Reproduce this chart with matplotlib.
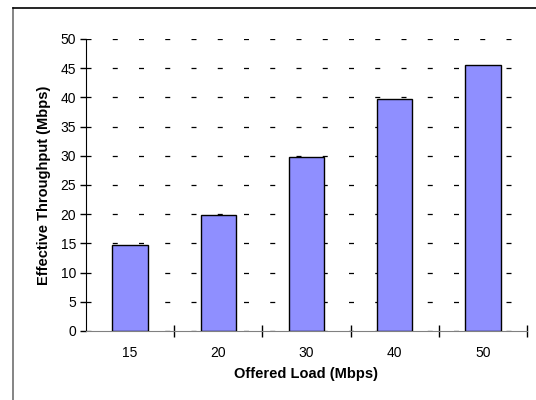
import matplotlib
matplotlib.use('Agg')
import matplotlib.pyplot as plt
from matplotlib.lines import Line2D

plt.rcParams['font.family'] = ['Liberation Sans', 'DejaVu Sans']

loads = ['15', '20', '30', '40', '50']
throughput = [14.8, 19.9, 29.8, 39.8, 45.6]
y_ticks = [0, 5, 10, 15, 20, 25, 30, 35, 40, 45, 50]

fig = plt.figure(figsize=(5.36, 4.0), dpi=100)
ax = fig.add_axes([86 / 536, 1 - 331 / 400, (527 - 86) / 536, (331 - 39) / 400])

x = list(range(len(loads)))
ax.bar(x, throughput, width=0.4, color='#8f8fff', edgecolor='black', linewidth=1.0, zorder=3)

ax.set_xlim(-0.5, len(loads) - 0.5)
ax.set_ylim(0, 50)
ax.set_yticks(y_ticks)
ax.set_xticks(x)
ax.set_xticklabels(loads)
ax.set_xticks([i + 0.5 for i in range(len(loads))], minor=True)
ax.tick_params(axis='x', which='major', length=0, pad=11, labelsize=10)
ax.tick_params(axis='x', which='minor', direction='inout', length=8, width=1, color='black')
ax.tick_params(axis='y', direction='out', length=4, width=1, labelsize=10, pad=3)

ax.yaxis.grid(True, color='black', linestyle=(0, (4, 17)), linewidth=0.9, zorder=0)
ax.set_axisbelow(True)

for s in ['top', 'right']:
    ax.spines[s].set_visible(False)
ax.spines['left'].set_color('black')
ax.spines['bottom'].set_color('#808080')

ax.set_xlabel('Offered Load (Mbps)', fontsize=10.5, fontweight='bold', labelpad=5)
ax.set_ylabel('Effective Throughput (Mbps)', fontsize=10.5, fontweight='bold', labelpad=7)

# chart frame (left and top edges visible)
fig.add_artist(Line2D([13 / 536, 13 / 536], [0, 1 - 8 / 400], color='#707070', linewidth=1.2))
fig.add_artist(Line2D([13 / 536, 1], [1 - 8 / 400, 1 - 8 / 400], color='black', linewidth=1.2))

fig.savefig('out.png', dpi=100)
